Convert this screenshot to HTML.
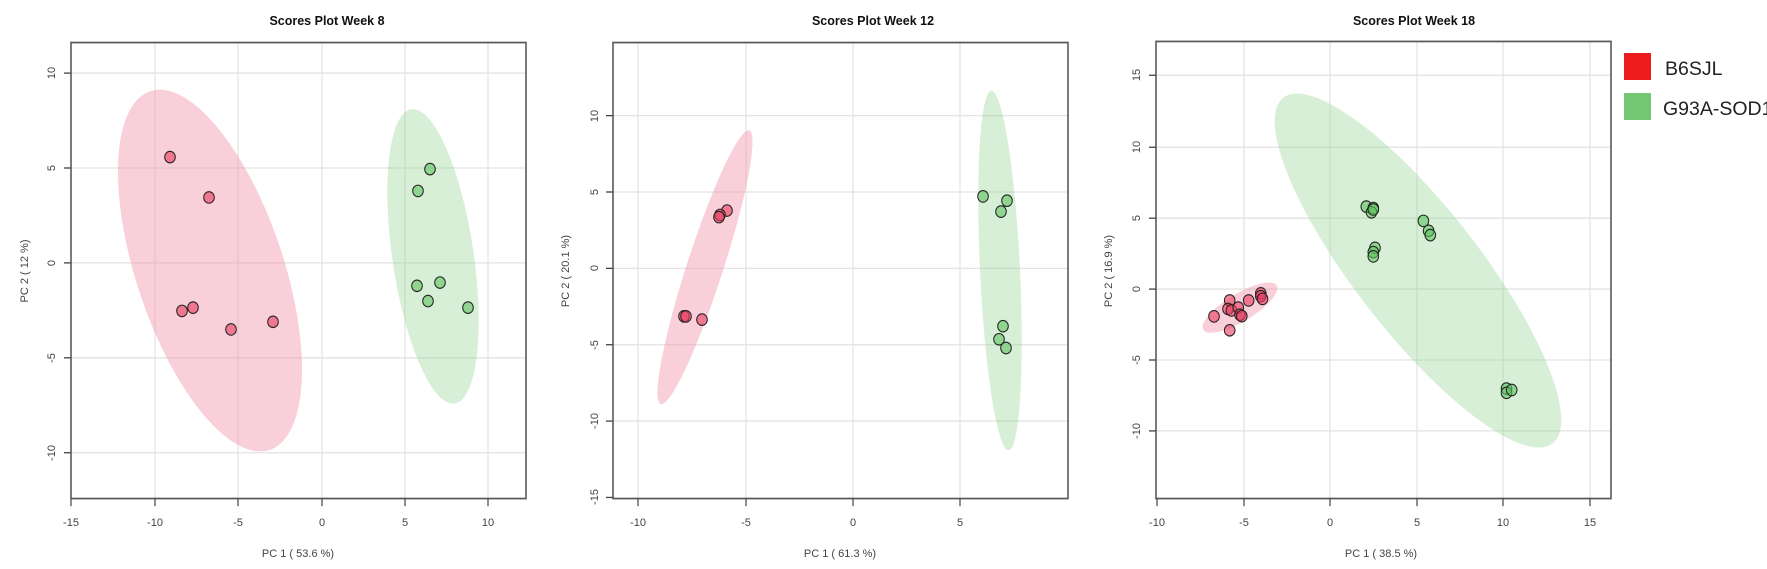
<!DOCTYPE html>
<html><head><meta charset="utf-8"><style>
html,body{margin:0;padding:0;background:#fff;}
svg{display:block;font-family:"Liberation Sans",sans-serif;}
.g{stroke:#e3e3e3;stroke-width:1.2;}
.bx{fill:none;stroke:#5a5a5a;stroke-width:1.6;}
.t{font-size:11px;fill:#444;}
.ttl{font-size:12.5px;font-weight:bold;fill:#111;}
.r{fill:rgba(232,60,95,0.6);stroke:#222;stroke-width:1;}
.gr{fill:rgba(95,195,95,0.6);stroke:#222;stroke-width:1;}
.ax{stroke:#444;stroke-width:1.2;}
</style></head><body>
<svg width="1767" height="569" viewBox="0 0 1767 569" xmlns="http://www.w3.org/2000/svg">
<rect width="1767" height="569" fill="#fff"/>
<g transform="scale(1,1.0909)">
<!-- PLOT 1 -->
<line class="g" x1="155" y1="39" x2="155" y2="457"/><line class="g" x1="238" y1="39" x2="238" y2="457"/>
<line class="g" x1="322" y1="39" x2="322" y2="457"/><line class="g" x1="405" y1="39" x2="405" y2="457"/>
<line class="g" x1="488" y1="39" x2="488" y2="457"/>
<line class="g" x1="71" y1="67" x2="526" y2="67"/><line class="g" x1="71" y1="154" x2="526" y2="154"/>
<line class="g" x1="71" y1="241" x2="526" y2="241"/><line class="g" x1="71" y1="328" x2="526" y2="328"/>
<line class="g" x1="71" y1="415" x2="526" y2="415"/>
<ellipse cx="210" cy="248" rx="73" ry="175" fill="rgba(240,140,165,0.42)" transform="rotate(-20.6 210 248)"/>
<ellipse cx="433" cy="235" rx="40.6" ry="136.6" fill="rgba(140,210,140,0.36)" transform="rotate(-9.25 433 235)"/>
<circle class="r" cx="170" cy="144" r="5.3"/><circle class="r" cx="209" cy="181" r="5.3"/>
<circle class="r" cx="182" cy="285" r="5.3"/><circle class="r" cx="193" cy="282" r="5.3"/>
<circle class="r" cx="231" cy="302" r="5.3"/><circle class="r" cx="273" cy="295" r="5.3"/>
<circle class="gr" cx="430" cy="155" r="5.3"/><circle class="gr" cx="418" cy="175" r="5.3"/>
<circle class="gr" cx="417" cy="262" r="5.3"/><circle class="gr" cx="440" cy="259" r="5.3"/>
<circle class="gr" cx="428" cy="276" r="5.3"/><circle class="gr" cx="468" cy="282" r="5.3"/>
<rect class="bx" x="71" y="39" width="455" height="418"/>
<g class="ax"><line x1="71" y1="457" x2="71" y2="464"/><line x1="155" y1="457" x2="155" y2="464"/><line x1="238" y1="457" x2="238" y2="464"/><line x1="322" y1="457" x2="322" y2="464"/><line x1="405" y1="457" x2="405" y2="464"/><line x1="488" y1="457" x2="488" y2="464"/>
<line x1="64" y1="67" x2="71" y2="67"/><line x1="64" y1="154" x2="71" y2="154"/><line x1="64" y1="241" x2="71" y2="241"/><line x1="64" y1="328" x2="71" y2="328"/><line x1="64" y1="415" x2="71" y2="415"/></g>

<!-- PLOT 2 -->
<line class="g" x1="638" y1="39" x2="638" y2="457"/><line class="g" x1="746" y1="39" x2="746" y2="457"/>
<line class="g" x1="853" y1="39" x2="853" y2="457"/><line class="g" x1="960" y1="39" x2="960" y2="457"/>
<line class="g" x1="613" y1="106" x2="1068" y2="106"/><line class="g" x1="613" y1="176" x2="1068" y2="176"/>
<line class="g" x1="613" y1="246" x2="1068" y2="246"/><line class="g" x1="613" y1="316" x2="1068" y2="316"/>
<line class="g" x1="613" y1="386" x2="1068" y2="386"/>
<ellipse cx="705" cy="245" rx="18" ry="133" fill="rgba(240,140,165,0.42)" transform="rotate(19.5 705 245)"/>
<ellipse cx="1000" cy="248" rx="20" ry="165" fill="rgba(140,210,140,0.36)" transform="rotate(-3 1000 248)"/>
<circle class="r" cx="727" cy="193" r="5.3"/><circle class="r" cx="720" cy="197" r="5.3"/><circle class="r" cx="719" cy="199" r="5.3"/>
<circle class="r" cx="684" cy="290" r="5.3"/><circle class="r" cx="686" cy="290" r="5.3"/><circle class="r" cx="702" cy="293" r="5.3"/>
<circle class="gr" cx="983" cy="180" r="5.3"/><circle class="gr" cx="1007" cy="184" r="5.3"/><circle class="gr" cx="1001" cy="194" r="5.3"/>
<circle class="gr" cx="1003" cy="299" r="5.3"/><circle class="gr" cx="999" cy="311" r="5.3"/><circle class="gr" cx="1006" cy="319" r="5.3"/>
<rect class="bx" x="613" y="39" width="455" height="418"/>
<g class="ax"><line x1="638" y1="457" x2="638" y2="464"/><line x1="746" y1="457" x2="746" y2="464"/><line x1="853" y1="457" x2="853" y2="464"/><line x1="960" y1="457" x2="960" y2="464"/>
<line x1="606" y1="106" x2="613" y2="106"/><line x1="606" y1="176" x2="613" y2="176"/><line x1="606" y1="246" x2="613" y2="246"/><line x1="606" y1="316" x2="613" y2="316"/><line x1="606" y1="386" x2="613" y2="386"/><line x1="606" y1="456" x2="613" y2="456"/></g>

<!-- PLOT 3 -->
<line class="g" x1="1244" y1="38" x2="1244" y2="457"/><line class="g" x1="1330" y1="38" x2="1330" y2="457"/>
<line class="g" x1="1417" y1="38" x2="1417" y2="457"/><line class="g" x1="1503" y1="38" x2="1503" y2="457"/>
<line class="g" x1="1590" y1="38" x2="1590" y2="457"/>
<line class="g" x1="1156" y1="69" x2="1611" y2="69"/><line class="g" x1="1156" y1="135" x2="1611" y2="135"/>
<line class="g" x1="1156" y1="200" x2="1611" y2="200"/><line class="g" x1="1156" y1="265" x2="1611" y2="265"/>
<line class="g" x1="1156" y1="330" x2="1611" y2="330"/><line class="g" x1="1156" y1="395" x2="1611" y2="395"/>
<ellipse cx="1418" cy="248" rx="60" ry="208" fill="rgba(140,210,140,0.36)" transform="rotate(-40.8 1418 248)"/>
<ellipse cx="1240" cy="282" rx="42" ry="13" fill="rgba(240,140,165,0.42)" transform="rotate(-28.5 1240 282)"/>
<circle class="r" cx="1214" cy="290" r="5.3"/><circle class="r" cx="1229.7" cy="275.4" r="5.3"/><circle class="r" cx="1228" cy="283.2" r="5.3"/>
<circle class="r" cx="1231.4" cy="284.5" r="5.3"/><circle class="r" cx="1238.3" cy="282" r="5.3"/><circle class="r" cx="1240" cy="288.5" r="5.3"/>
<circle class="r" cx="1241.8" cy="289.8" r="5.3"/><circle class="r" cx="1229.7" cy="302.8" r="5.3"/><circle class="r" cx="1248.7" cy="275.4" r="5.3"/>
<circle class="r" cx="1260.8" cy="268.9" r="5.3"/><circle class="r" cx="1260.8" cy="271.5" r="5.3"/><circle class="r" cx="1262.5" cy="274" r="5.3"/>
<circle class="gr" cx="1366.3" cy="189.4" r="5.3"/><circle class="gr" cx="1373.3" cy="190.7" r="5.3"/><circle class="gr" cx="1371.5" cy="194.6" r="5.3"/>
<circle class="gr" cx="1373.3" cy="192" r="5.3"/><circle class="gr" cx="1423.4" cy="202.5" r="5.3"/><circle class="gr" cx="1428.6" cy="211.6" r="5.3"/>
<circle class="gr" cx="1430.3" cy="215.5" r="5.3"/><circle class="gr" cx="1375" cy="227.2" r="5.3"/><circle class="gr" cx="1373.3" cy="231.1" r="5.3"/>
<circle class="gr" cx="1373.3" cy="235" r="5.3"/><circle class="gr" cx="1506.5" cy="356.2" r="5.3"/><circle class="gr" cx="1506.5" cy="360.1" r="5.3"/>
<circle class="gr" cx="1511.7" cy="357.5" r="5.3"/>
<rect class="bx" x="1156" y="38" width="455" height="419"/>
<g class="ax"><line x1="1157" y1="457" x2="1157" y2="464"/><line x1="1244" y1="457" x2="1244" y2="464"/><line x1="1330" y1="457" x2="1330" y2="464"/><line x1="1417" y1="457" x2="1417" y2="464"/><line x1="1503" y1="457" x2="1503" y2="464"/><line x1="1590" y1="457" x2="1590" y2="464"/>
<line x1="1149" y1="69" x2="1156" y2="69"/><line x1="1149" y1="135" x2="1156" y2="135"/><line x1="1149" y1="200" x2="1156" y2="200"/><line x1="1149" y1="265" x2="1156" y2="265"/><line x1="1149" y1="330" x2="1156" y2="330"/><line x1="1149" y1="395" x2="1156" y2="395"/></g>
</g>

<!-- TEXT -->
<g class="t" text-anchor="middle">
<text x="71" y="526">-15</text><text x="155" y="526">-10</text><text x="238" y="526">-5</text><text x="322" y="526">0</text><text x="405" y="526">5</text><text x="488" y="526">10</text>
<text transform="translate(55 73) rotate(-90)">10</text><text transform="translate(55 168) rotate(-90)">5</text><text transform="translate(55 263) rotate(-90)">0</text><text transform="translate(55 358) rotate(-90)">-5</text><text transform="translate(55 453) rotate(-90)">-10</text>
<text x="298" y="557">PC 1 ( 53.6 %)</text>
<text transform="translate(28 271) rotate(-90)">PC 2 ( 12 %)</text>

<text x="638" y="526">-10</text><text x="746" y="526">-5</text><text x="853" y="526">0</text><text x="960" y="526">5</text>
<text transform="translate(598 116) rotate(-90)">10</text><text transform="translate(598 192) rotate(-90)">5</text><text transform="translate(598 268) rotate(-90)">0</text><text transform="translate(598 345) rotate(-90)">-5</text><text transform="translate(598 421) rotate(-90)">-10</text><text transform="translate(598 497) rotate(-90)">-15</text>
<text x="840" y="557">PC 1 ( 61.3 %)</text>
<text transform="translate(569 271) rotate(-90)">PC 2 ( 20.1 %)</text>

<text x="1157" y="526">-10</text><text x="1244" y="526">-5</text><text x="1330" y="526">0</text><text x="1417" y="526">5</text><text x="1503" y="526">10</text><text x="1590" y="526">15</text>
<text transform="translate(1140 75) rotate(-90)">15</text><text transform="translate(1140 147) rotate(-90)">10</text><text transform="translate(1140 218) rotate(-90)">5</text><text transform="translate(1140 289) rotate(-90)">0</text><text transform="translate(1140 360) rotate(-90)">-5</text><text transform="translate(1140 431) rotate(-90)">-10</text>
<text x="1381" y="557">PC 1 ( 38.5 %)</text>
<text transform="translate(1112 271) rotate(-90)">PC 2 ( 16.9 %)</text>
</g>
<text class="ttl" x="327" y="25" text-anchor="middle">Scores Plot  Week 8</text>
<text class="ttl" x="873" y="25" text-anchor="middle">Scores Plot  Week 12</text>
<text class="ttl" x="1414" y="25" text-anchor="middle">Scores Plot  Week 18</text>

<!-- LEGEND -->
<rect x="1624" y="53" width="27" height="27" fill="#ec1c1c"/>
<rect x="1624" y="93" width="27" height="27" fill="#74c874"/>
<text x="1665" y="75" font-size="19.5" fill="#222">B6SJL</text>
<text x="1663" y="115" font-size="19.5" fill="#222">G93A-SOD1</text>
</svg>
</body></html>
